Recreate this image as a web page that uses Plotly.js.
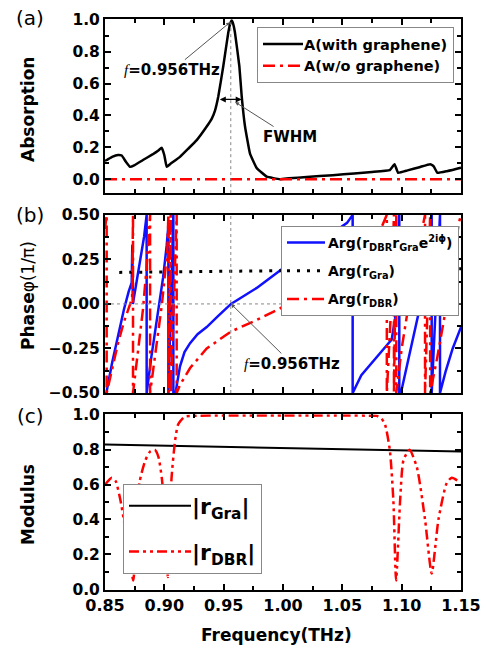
<!DOCTYPE html>
<html><head><meta charset="utf-8">
<script src="https://cdn.plot.ly/plotly-3.0.1.min.js"></script>
<style>body{margin:0;background:#fff}#chart{width:487px;height:648px}</style>
</head><body><div id="chart"></div>
<script>
// ---------- data ----------
const fRes = 0.956;
const freqAbs = [0.850,0.8514,0.856,0.861,0.8641,0.8675,0.8711,0.875,0.882,0.890,0.895,0.8978,0.900,0.902,0.905,0.9132,0.920,0.9273,0.9357,0.940,0.9427,0.9455,0.9497,0.9539,0.9555,0.9568,0.958,0.9595,0.9632,0.9652,0.968,0.9722,0.9778,0.9863,0.9975,1.005,1.020,1.042,1.060,1.075,1.090,1.094,1.097,1.105,1.115,1.124,1.127,1.130,1.138,1.149,1.150];
const absWith = [0.115,0.12,0.14,0.152,0.148,0.11,0.077,0.088,0.12,0.155,0.18,0.197,0.15,0.077,0.095,0.14,0.19,0.245,0.33,0.38,0.43,0.52,0.71,0.92,0.975,0.995,0.975,0.92,0.71,0.52,0.33,0.16,0.07,0.015,0.0,0.005,0.013,0.025,0.036,0.045,0.057,0.094,0.04,0.055,0.075,0.094,0.08,0.04,0.05,0.07,0.072];
const freqNoG = [0.85,1.15];
const absNoG = [0,0];

const freqTot = [0.850,0.8514,0.856,0.861,0.866,0.870,0.8725,0.873,0.8735,0.874,0.877,0.880,0.883,0.8851,0.8851,0.889,0.894,0.899,0.902,0.9034,0.9034,0.9076,0.9076,0.9095,0.9104,0.9118,0.9132,0.917,0.9217,0.928,0.9357,0.945,0.9562,0.9779,0.9975,1.020,1.040,1.054,1.0587,1.0587,1.066,1.075,1.084,1.0916,1.0945,1.0965,1.098,1.098,1.100,1.106,1.111,1.1155,1.120,1.1235,1.1253,1.1253,1.1323,1.1323,1.137,1.143,1.150];
const argTot = [-0.53,-0.49,-0.33,-0.17,-0.03,0.07,0.12,0.33,0.0,0.02,0.14,0.26,0.38,0.5,-0.5,-0.3,-0.07,0.15,0.33,0.44,-0.5,0.5,-0.5,-0.5,-0.46,-0.4,-0.35,-0.27,-0.22,-0.17,-0.13,-0.07,0.0,0.09,0.19,0.30,0.39,0.455,0.5,-0.5,-0.4,-0.33,-0.26,-0.2,-0.08,0.2,0.5,-0.5,-0.48,-0.3,-0.15,-0.03,0.12,0.3,0.5,-0.5,0.5,-0.5,-0.38,-0.25,-0.13];
const freqGra = [0.862,0.90,0.95,1.00,1.05,1.10,1.15];
const argGra = [0.177,0.179,0.182,0.186,0.19,0.194,0.198];
const freqDBR = [0.850,0.8514,0.8514,0.856,0.861,0.866,0.8705,0.8728,0.8736,0.8736,0.8745,0.878,0.882,0.885,0.888,0.888,0.893,0.898,0.9025,0.9034,0.9034,0.9054,0.9054,0.9104,0.9104,0.9132,0.9217,0.9357,0.9562,0.9779,0.9975,1.02,1.04,1.06,1.075,1.083,1.0875,1.0875,1.0905,1.0935,1.0935,1.0955,1.0955,1.100,1.106,1.112,1.1197,1.1197,1.124,1.124,1.130,1.138,1.144,1.148,1.150];
const argDBR = [0.42,0.5,-0.5,-0.36,-0.22,-0.1,-0.02,0.03,0.5,-0.5,-0.45,-0.25,-0.03,0.2,0.5,-0.5,-0.25,0.0,0.3,0.5,-0.5,0.5,-0.5,0.5,-0.5,-0.455,-0.36,-0.25,-0.155,-0.09,-0.025,0.07,0.16,0.26,0.36,0.43,0.5,-0.5,-0.1,0.5,-0.5,0.5,-0.5,-0.25,0.0,0.25,0.5,-0.5,0.5,-0.5,-0.3,0.0,0.25,0.45,0.5];

const freqRDBR = [0.850,0.8557,0.859,0.863,0.867,0.871,0.8738,0.876,0.879,0.884,0.888,0.892,0.895,0.898,0.901,0.903,0.9045,0.906,0.909,0.9116,0.917,0.925,0.95,1.0,1.05,1.075,1.079,1.083,1.086,1.090,1.093,1.0953,1.0987,1.1015,1.1066,1.1128,1.1197,1.1253,1.131,1.138,1.1422,1.150];
const modDBR = [0.60,0.64,0.62,0.51,0.35,0.17,0.05,0.25,0.61,0.74,0.79,0.80,0.76,0.63,0.35,0.07,0.3,0.63,0.85,0.945,0.99,0.995,0.997,0.997,0.997,0.996,0.995,0.98,0.945,0.80,0.51,0.05,0.51,0.74,0.80,0.70,0.40,0.09,0.40,0.61,0.64,0.61];
const freqMod = [0.85,0.90,0.95,1.00,1.05,1.10,1.15];
const modGra = [0.830,0.824,0.817,0.810,0.803,0.796,0.790];

const xTicks = [0.85,0.90,0.95,1.00,1.05,1.10,1.15];

// ---------- style ----------
const FF = 'DejaVu Sans';
const boldX = {family: FF, size: 16, color: '#000', weight: 'bold'};
const boldY = {family: FF, size: 15.5, color: '#000', weight: 'bold'};
const RED = '#ff0000', BLUE = '#1010ff';
const DASHDOT = '12px,5px,3px,5px';

const traces = [
  {x: freqAbs, y: absWith, xaxis:'x', yaxis:'y', mode:'lines', name:'A(with graphene)', line:{color:'#000', width:2.5, shape:'spline', smoothing:0.3}, legend:'legend'},
  {x: freqNoG, y: absNoG, xaxis:'x', yaxis:'y', mode:'lines', name:'A(w/o graphene)', line:{color:RED, width:2.5, dash:DASHDOT}, legend:'legend'},
  {x: freqTot, y: argTot, xaxis:'x2', yaxis:'y2', mode:'lines', name:'Arg(r<sub>DBR</sub>r<sub>Gra</sub>e<sup>2iϕ</sup>)', line:{color:BLUE, width:2.5}, legend:'legend2', legendgroup:'g1'},
  {x: freqGra, y: argGra, xaxis:'x2', yaxis:'y2', mode:'lines', name:'Arg(r<sub>Gra</sub>)', line:{color:'#000', width:3, dash:'3px,7px'}, legend:'legend2', legendgroup:'g2'},
  {x: freqDBR, y: argDBR, xaxis:'x2', yaxis:'y2', mode:'lines', name:'Arg(r<sub>DBR</sub>)', line:{color:RED, width:2.5, dash:DASHDOT}, legend:'legend2', legendgroup:'g3'},
  {x: freqMod, y: modGra, xaxis:'x3', yaxis:'y3', mode:'lines', name:'|r<sub>Gra</sub>|', line:{color:'#000', width:2}, legend:'legend3', legendgroup:'h1'},
  {x: freqRDBR, y: modDBR, xaxis:'x3', yaxis:'y3', mode:'lines', name:'|r<sub>DBR</sub>|', line:{color:RED, width:2.5, dash:'10px,4px,3px,4px,3px,4px', shape:'spline', smoothing:0.6}, legend:'legend3', legendgroup:'h2'}
];

function xax(showLabels, anchor){
  return {range:[0.85,1.15], anchor: anchor, tickvals: xTicks, ticktext: xTicks.map(v=>v.toFixed(2)), showticklabels: showLabels,
    ticks:'inside', ticklen:6, tickwidth:2, tickcolor:'#000', mirror:'allticks', showline:true, linewidth:2, linecolor:'#000',
    showgrid:false, zeroline:false, tickfont: boldX, minor:{dtick:0.025, tick0:0.85, ticks:'inside', ticklen:4, tickwidth:2, tickcolor:'#000'}};
}
function yax(range, dtick, minor, domain, fmt, anchor){
  return {range: range, domain: domain, anchor: anchor, dtick: dtick, tick0: 0, tickformat: fmt,
    ticks:'inside', ticklen:6, tickwidth:2, tickcolor:'#000', mirror:'allticks', showline:true, linewidth:2, linecolor:'#000',
    showgrid:false, zeroline:false, tickfont: boldY, minor:{dtick:minor, ticks:'inside', ticklen:4, tickwidth:2, tickcolor:'#000'}};
}

const legBase = {bgcolor:'#fff', bordercolor:'#888', borderwidth:1, xanchor:'left', yanchor:'top', font:{family:FF, size:14.5, color:'#000', weight:'bold'}, itemwidth:36, traceorder:'normal'};

const PX = px => (px-105)/356, PY = py => (590-py)/571;
const ann = (x, y, text, font, extra) => Object.assign({xref:'paper', yref:'paper', x:x, y:y, text:text, showarrow:false, xanchor:'center', yanchor:'middle', font:font}, extra||{});
const titleFont = {family:FF, size:17, color:'#000', weight:'bold'};
const panelFont = {family:FF, size:20, color:'#000'};
const annFont = {family:FF, size:15, color:'#000', weight:'bold'};
const fTxt = '<i style="font-family:Liberation Serif;font-weight:normal">f</i>=0.956THz';

const layout = {
  width:487, height:648, margin:{l:105, r:26, t:19, b:58}, paper_bgcolor:'#fff', plot_bgcolor:'#fff', showlegend:true,
  xaxis: xax(false,'y'), xaxis2: xax(false,'y2'), xaxis3: xax(true,'y3'),
  yaxis: yax([-0.088,1.005], 0.2, 0.1, [0.695,1], '.1f', 'x'),
  yaxis2: yax([-0.5,0.5], 0.25, 0.125, [0.345,0.657], '.2f', 'x2'),
  yaxis3: yax([-0.005,1.005], 0.2, 0.1, [0,0.308], '.1f', 'x3'),
  legend: Object.assign({}, legBase, {x:PX(257), y:PY(27)}),
  legend2: Object.assign({}, legBase, {x:PX(281), y:PY(226), traceorder:'grouped', tracegroupgap:7, font:{family:FF, size:14, color:'#000', weight:'bold'}}),
  legend3: Object.assign({}, legBase, {x:PX(123), y:PY(484), traceorder:'grouped', tracegroupgap:14, itemwidth:58, font:{family:FF, size:22, color:'#000', weight:'bold'}}),
  shapes: [
    {type:'line', xref:'x', yref:'paper', x0:fRes, x1:fRes, y0:0.695, y1:1, line:{color:'#888', width:1, dash:'dot'}},
    {type:'line', xref:'x2', yref:'y2', x0:fRes, x1:fRes, y0:-0.5, y1:0.5, line:{color:'#888', width:1, dash:'dot'}},
    {type:'line', xref:'x2', yref:'y2', x0:0.85, x1:1.15, y0:0, y1:0, line:{color:'#888', width:1, dash:'dot'}}
  ],
  annotations: [
    ann(PX(30), PY(18), '(a)', panelFont),
    ann(PX(30), PY(215), '(b)', panelFont),
    ann(PX(30), PY(416), '(c)', panelFont),
    ann(PX(28), PY(110), 'Absorption', titleFont, {textangle:-90}),
    ann(PX(28), PY(296), 'Phase<span style="font-weight:normal">φ(1/π)</span>', titleFont, {textangle:-90}),
    ann(PX(28), PY(505), 'Modulus', titleFont, {textangle:-90}),
    ann(PX(276), PY(635), 'Frequency(THz)', titleFont),
    {xref:'x', yref:'y', x:0.9555, y:0.985, ax:-58, ay:48, text:fTxt, showarrow:true, arrowhead:2, arrowsize:0.8, arrowwidth:1, arrowcolor:'#555', font:annFont},
    {xref:'x', yref:'y', axref:'x', ayref:'y', x:0.9652, y:0.5, ax:0.9455, ay:0.5, text:'', showarrow:true, arrowside:'end+start', arrowhead:2, arrowsize:1, arrowwidth:1.2, arrowcolor:'#000'},
    {xref:'x', yref:'y', x:0.9596, y:0.484, ax:55, ay:35, text:'FWHM', showarrow:true, arrowhead:2, arrowsize:0.8, arrowwidth:1, arrowcolor:'#555', font:annFont},
    {xref:'x2', yref:'y2', x:0.9562, y:0, ax:61, ay:60, text:fTxt, showarrow:true, arrowhead:2, arrowsize:0.8, arrowwidth:1, arrowcolor:'#555', font:annFont}
  ]
};

// legend sample line lengths (style only)
const sampleLen = {legend:40, legend2:38, legend3:62};

Plotly.newPlot('chart', traces, layout, {displayModeBar:false, staticPlot:true}).then(gd => {
  Object.keys(sampleLen).forEach(id => {
    document.querySelectorAll('g.' + id + ' g.legendlines path').forEach(p => p.setAttribute('d', 'M5,0h' + sampleLen[id]));
  });
});
</script></body></html>
